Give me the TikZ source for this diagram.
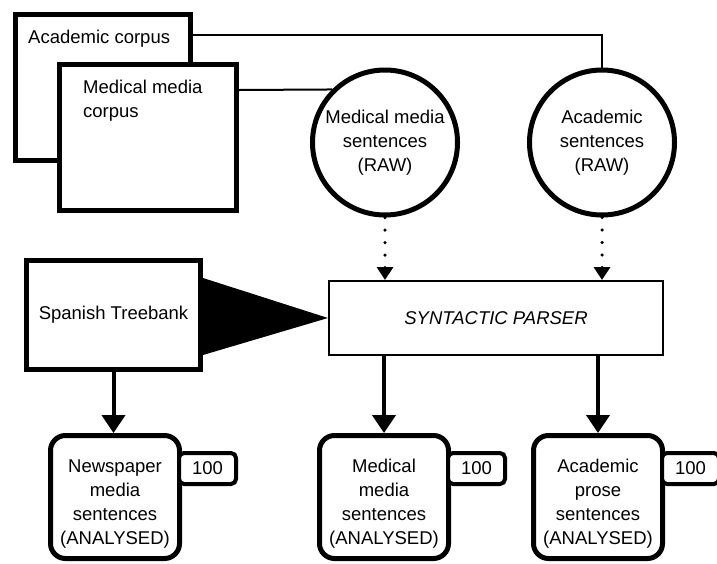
\documentclass[tikz,border=0pt]{standalone}
\usepackage{fontspec}
\setmainfont{Liberation Sans}
\usetikzlibrary{arrows.meta,calc}
\begin{document}
\begin{tikzpicture}[x=1pt,y=-1pt,
  font=\fontsize{18.5}{24}\selectfont,
  thickbox/.style={draw,line width=5pt,fill=white,inner sep=0pt},
  circ/.style={circle,draw,line width=5pt,minimum size=145pt,inner sep=0pt,align=center,fill=white},
  outbox/.style={draw,line width=5pt,rounded corners=15pt,minimum width=129pt,minimum height=123pt,inner sep=0pt,fill=white},
  outtext/.style={align=center,inner sep=0pt,yshift=-7pt},
  countbox/.style={draw,line width=4pt,rounded corners=5pt,minimum width=57pt,minimum height=31pt,inner sep=0pt,fill=white},
  thinline/.style={line width=2pt},
  flow/.style={line width=4pt,-{Triangle[width=23pt,length=18pt]}},
  dotflow/.style={line width=3.5pt,line cap=round,dash pattern=on 0pt off 12.5pt,-{Triangle[width=16pt,length=13pt]}},
]
\useasboundingbox (0,0) rectangle (717,563);

% corpora
\node[thickbox,minimum width=175pt,minimum height=146pt,
  label={[anchor=north west,inner sep=0pt,xshift=15pt,yshift=-18pt]north west:Academic corpus}] (acad) at (103,87.5) {};
\node[thickbox,minimum width=177pt,minimum height=146pt,
  label={[anchor=north west,inner sep=0pt,xshift=26pt,yshift=-18pt,align=left]north west:Medical media\\corpus}] (med) at (148,137.5) {};

% raw sentence circles
\node[circ] (medS) at (385,142.5) {Medical media\\sentences\\(RAW)};
\node[circ] (acadS) at (602,142.5) {Academic\\sentences\\(RAW)};

% treebank and parser
\node[thickbox,minimum width=174pt,minimum height=109pt] (tree) at (113.5,315) {Spanish Treebank};
\node[draw,line width=2pt,minimum width=334pt,minimum height=74pt,inner sep=0pt,font=\fontsize{18.5}{24}\selectfont\itshape] (parser) at (496,318) {SYNTACTIC PARSER};

% analysed outputs
\node[outbox,label={[outtext]center:Newspaper\\media\\sentences\\(ANALYSED)}] (news) at (115,497) {};
\node[outbox,label={[outtext]center:Medical\\media\\sentences\\(ANALYSED)}] (medA) at (384,497) {};
\node[outbox,label={[outtext]center:Academic\\prose\\sentences\\(ANALYSED)}] (acadA) at (598,497) {};

\node[countbox,anchor=west] (newsN) at ($(news.east)+(-5,-28.5)$) {100};
\node[countbox,anchor=west] (medN) at ($(medA.east)+(-5,-28.5)$) {100};
\node[countbox,anchor=west] (acadN) at ($(acadA.east)+(-5,-28.5)$) {100};

% connectors
\draw[thinline] ($(acad.north east)+(0,23)$) -| (acadS.north);
\draw[thinline] ($(med.north east)+(0,28)$) -- (medS.135);

\draw[dotflow] (medS.south) -- (medS.south |- parser.north);
\draw[dotflow] (acadS.south) -- (acadS.south |- parser.north);

\fill ($(tree.east)+(0,-37)$) -- ($(tree.east)+(0,40)$) -- (parser.west) -- cycle;

\draw[flow] (tree.south) -- (tree.south |- news.north);
\draw[flow] (parser.south -| medA.north) -- (medA.north);
\draw[flow] (parser.south -| acadA.north) -- (acadA.north);
\end{tikzpicture}
\end{document}
